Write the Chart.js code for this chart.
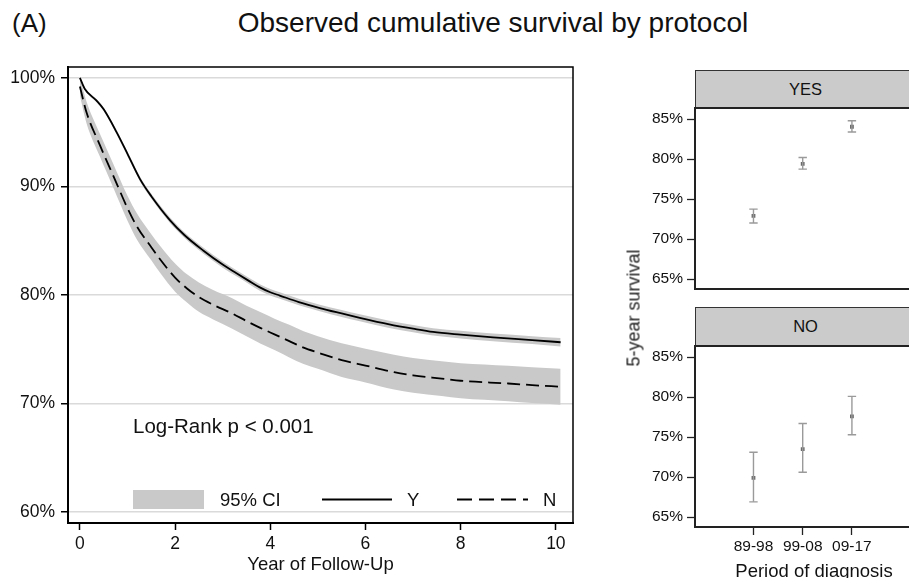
<!DOCTYPE html>
<html>
<head>
<meta charset="utf-8">
<script src="https://cdn.jsdelivr.net/npm/chart.js@4.4.0/dist/chart.umd.min.js"></script>
<style>
  html, body { margin: 0; padding: 0; background: #fff; overflow: hidden; }
  #wrap { position: relative; width: 909px; height: 578px; overflow: hidden;
          font-family: "Liberation Sans", Arial, Helvetica, sans-serif; color: #111; }
  .lbl { position: absolute; white-space: nowrap; }
  canvas { position: absolute; }
  .strip { position: absolute; box-sizing: border-box; background: #cbcbcb; border: 1px solid #333;
           border-bottom: 2px solid #222; text-align: center; font-size: 16.5px; color: #111; }
</style>
</head>
<body>
<div id="wrap">
  <div class="lbl" style="left:12px; top:8px; font-size:26px; line-height:30px;">(A)</div>
  <div class="lbl" style="left:193px; top:7px; width:600px; text-align:center; font-size:28px; line-height:32px;">Observed cumulative survival by protocol</div>

  <canvas id="kmChart" width="600" height="578" style="left:0; top:0;"></canvas>

  <div class="strip" style="left:695px; top:70px; width:221px; height:39px; line-height:36px;">YES</div>
  <canvas id="yesChart" width="316" height="195" style="left:600px; top:100px;"></canvas>

  <div class="strip" style="left:695px; top:307px; width:221px; height:40px; line-height:37px;">NO</div>
  <canvas id="noChart" width="316" height="240" style="left:600px; top:338px;"></canvas>

  <div class="lbl" style="left:634px; top:308px; font-size:18px; color:#222; transform: translate(-50%, -50%) rotate(-90deg);">5-year survival</div>
  <div class="lbl" style="left:714px; top:560px; width:200px; text-align:center; font-size:18.5px; line-height:22px;">Period of diagnosis</div>
</div>

<script>
// Kaplan-Meier curves (years, % surviving)
const yTime  = [0, 0.1, 0.35, 0.5, 0.77, 1.0, 1.26, 1.5, 1.89, 2.2, 2.59, 3.0, 3.29, 3.55, 3.78, 4.0, 4.2, 4.6, 5.04, 5.5, 5.88, 6.5, 7.0, 7.42, 8.0, 8.68, 9.5, 10.1];
const ySurv  = [100, 99.0, 97.9, 97.1, 95.0, 93.0, 90.7, 89.1, 86.9, 85.5, 84.1, 82.8, 82.0, 81.3, 80.7, 80.25, 79.95, 79.35, 78.8, 78.3, 77.9, 77.3, 76.9, 76.6, 76.35, 76.1, 75.85, 75.65];
const yUpper = [100, 99.1, 98.05, 97.25, 95.2, 93.2, 90.92, 89.32, 87.15, 85.75, 84.37, 83.08, 82.28, 81.59, 81.0, 80.55, 80.25, 79.65, 79.1, 78.62, 78.22, 77.63, 77.23, 76.94, 76.7, 76.45, 76.21, 76.05];
const yLower = [100, 98.9, 97.75, 96.95, 94.8, 92.8, 90.48, 88.88, 86.65, 85.25, 83.83, 82.52, 81.72, 81.01, 80.4, 79.95, 79.65, 79.05, 78.5, 77.98, 77.58, 76.97, 76.57, 76.26, 76.0, 75.75, 75.49, 75.25];

const nTime  = [0, 0.05, 0.14, 0.42, 0.7, 1.0, 1.2, 1.5, 1.7, 2.0, 2.25, 2.5, 2.8, 3.2, 3.5, 3.8, 4.1, 4.4, 4.7, 5.0, 5.5, 6.0, 6.6, 7.0, 7.6, 8.0, 9.0, 9.5, 10.1];
const nSurv  = [99.2, 98.3, 96.8, 93.8, 91.0, 88.0, 86.3, 84.4, 83.2, 81.6, 80.6, 79.8, 79.1, 78.3, 77.6, 76.95, 76.35, 75.75, 75.15, 74.7, 74.0, 73.5, 72.9, 72.6, 72.3, 72.1, 71.85, 71.7, 71.55];
const nUpper = [100, 99.2, 97.8, 94.85, 92.1, 89.15, 87.5, 85.6, 84.45, 82.9, 81.9, 81.15, 80.45, 79.7, 79.0, 78.4, 77.8, 77.25, 76.65, 76.2, 75.55, 75.05, 74.5, 74.2, 73.9, 73.72, 73.49, 73.35, 73.2];
const nLower = [98.4, 97.4, 95.8, 92.75, 89.9, 86.85, 85.1, 83.2, 81.95, 80.3, 79.3, 78.45, 77.75, 76.9, 76.2, 75.5, 74.9, 74.25, 73.65, 73.2, 72.45, 71.95, 71.3, 71.0, 70.7, 70.48, 70.21, 70.05, 69.9];

const xTickValues = [0, 2, 4, 6, 8, 10];
const yTickValues = [60, 70, 80, 90, 100];

// 5-year survival by period of diagnosis, with 95% CI
const periods  = ['89-98', '99-08', '09-17'];
const yesEst   = [72.9, 79.4, 84.05];
const yesLow   = [72.0, 78.75, 83.4];
const yesHigh  = [73.75, 80.2, 84.8];
const noEst    = [69.9, 73.5, 77.6];
const noLow    = [66.9, 70.6, 75.3];
const noHigh   = [73.1, 76.7, 80.1];
const panelTicks = [65, 70, 75, 80, 85];

const FONT = '"Liberation Sans", Arial, Helvetica, sans-serif';
const CI_GRAY = '#c8c9c8';

Chart.defaults.font.family = FONT;
Chart.defaults.color = '#111';

function toPoints(xs, ys) {
  return xs.map((x, i) => ({ x: x, y: ys[i] }));
}

// top/right frame lines, annotation and legend inside the plot
const kmExtras = {
  id: 'kmExtras',
  afterDraw(chart) {
    const ctx = chart.ctx;
    const a = chart.chartArea;
    ctx.save();
    ctx.strokeStyle = '#000';
    ctx.lineWidth = 1.5;
    ctx.beginPath();
    ctx.moveTo(a.left, a.top);
    ctx.lineTo(a.right, a.top);
    ctx.lineTo(a.right, a.bottom);
    ctx.stroke();

    ctx.fillStyle = '#111';
    ctx.textBaseline = 'middle';
    ctx.font = '20.5px ' + FONT;
    ctx.fillText('Log-Rank p < 0.001', a.left + 65, 427);

    // legend row
    const ly = 499.5;
    ctx.fillStyle = CI_GRAY;
    ctx.fillRect(a.left + 65, ly - 9.5, 71, 19);
    ctx.fillStyle = '#111';
    ctx.font = '18.5px ' + FONT;
    ctx.fillText('95% CI', a.left + 152, ly + 1);
    ctx.strokeStyle = '#000';
    ctx.lineWidth = 1.8;
    ctx.beginPath();
    ctx.moveTo(a.left + 254, ly);
    ctx.lineTo(a.left + 324, ly);
    ctx.stroke();
    ctx.fillText('Y', a.left + 339, ly + 1);
    ctx.setLineDash([15, 7]);
    ctx.beginPath();
    ctx.moveTo(a.left + 389, ly);
    ctx.lineTo(a.left + 460, ly);
    ctx.stroke();
    ctx.setLineDash([]);
    ctx.fillText('N', a.left + 475, ly + 1);
    ctx.restore();
  }
};

new Chart(document.getElementById('kmChart'), {
  type: 'line',
  data: {
    datasets: [
      { label: 'Y upper', data: toPoints(yTime, yUpper), borderWidth: 0, pointRadius: 0, fill: '+1', backgroundColor: CI_GRAY },
      { label: 'Y lower', data: toPoints(yTime, yLower), borderWidth: 0, pointRadius: 0, fill: false },
      { label: 'N upper', data: toPoints(nTime, nUpper), borderWidth: 0, pointRadius: 0, fill: '+1', backgroundColor: CI_GRAY },
      { label: 'N lower', data: toPoints(nTime, nLower), borderWidth: 0, pointRadius: 0, fill: false },
      { label: 'Y', data: toPoints(yTime, ySurv), borderColor: '#000', borderWidth: 1.8, pointRadius: 0, fill: false },
      { label: 'N', data: toPoints(nTime, nSurv), borderColor: '#000', borderWidth: 1.8, borderDash: [13, 6], pointRadius: 0, fill: false }
    ]
  },
  options: {
    responsive: false,
    animation: false,
    layout: { padding: { top: 67, right: 27, left: 0, bottom: 0 } },
    elements: { line: { cubicInterpolationMode: 'monotone' } },
    plugins: {
      legend: { display: false },
      tooltip: { enabled: false },
      filler: { drawTime: 'beforeDatasetsDraw' }
    },
    scales: {
      x: {
        type: 'linear', min: -0.25, max: 10.36,
        afterBuildTicks: s => { s.ticks = xTickValues.map(v => ({ value: v })); },
        afterFit: s => { s.height = 55; },
        grid: { drawOnChartArea: false, drawTicks: true, tickLength: 7, tickColor: '#000', tickWidth: 1.5 },
        border: { display: true, color: '#000', width: 2 },
        ticks: { font: { size: 17.5 }, padding: 4, maxRotation: 0, autoSkip: false },
        title: { display: true, text: 'Year of Follow-Up', font: { size: 18.5 }, padding: { top: 0, bottom: 2 } }
      },
      y: {
        type: 'linear', min: 59, max: 101,
        afterBuildTicks: s => { s.ticks = yTickValues.map(v => ({ value: v })); },
        afterFit: s => { s.width = 68; s.paddingTop = 0; s.paddingBottom = 0; },
        grid: { color: '#dadada', lineWidth: 1.5, drawTicks: true, tickLength: 7, tickColor: '#000', tickWidth: 1.5 },
        border: { display: true, color: '#000', width: 2 },
        ticks: { callback: v => v + '%', font: { size: 17.5 }, padding: 6 }
      }
    }
  },
  plugins: [kmExtras]
});

// frame for the small panels
const panelFrame = {
  id: 'panelFrame',
  afterDraw(chart) {
    const ctx = chart.ctx;
    const a = chart.chartArea;
    ctx.save();
    ctx.strokeStyle = '#222';
    ctx.lineWidth = 2;
    ctx.strokeRect(a.left, a.top, a.right - a.left + 5, a.bottom - a.top);
    ctx.restore();
  }
};

function makePanel(id, est, low, high, showX, bottomSpace) {
  const datasets = periods.map((p, i) => ({
    label: p + ' CI',
    data: [{ x: i, y: low[i] }, { x: i, y: high[i] }],
    showLine: true,
    borderColor: '#9a9a9a',
    borderWidth: 1.4,
    pointStyle: 'line',
    pointRadius: 4.2,
    pointBorderColor: '#9a9a9a',
    pointBorderWidth: 1.4
  }));
  datasets.push({
    label: 'estimate',
    data: est.map((v, i) => ({ x: i, y: v })),
    showLine: false,
    pointStyle: 'rect',
    pointRadius: 2.7,
    pointBackgroundColor: '#6a6a6a',
    pointBorderWidth: 0
  });

  return new Chart(document.getElementById(id), {
    type: 'scatter',
    data: { datasets: datasets },
    options: {
      responsive: false,
      animation: false,
      layout: { padding: { top: 8, right: 0, left: 0, bottom: bottomSpace } },
      plugins: { legend: { display: false }, tooltip: { enabled: false } },
      scales: {
        x: {
          type: 'linear', min: -1.188, max: 3.188, display: showX,
          afterBuildTicks: s => { s.ticks = periods.map((p, i) => ({ value: i })); },
          afterFit: s => { if (showX) { s.height = 51; } s.paddingLeft = 0; s.paddingRight = 0; },
          grid: { drawOnChartArea: false, drawTicks: true, tickLength: 8, tickColor: '#222', tickWidth: 1.3 },
          border: { display: true, color: '#222', width: 2 },
          ticks: { callback: v => periods[v], font: { size: 15.5 }, padding: 2, maxRotation: 0, autoSkip: false }
        },
        y: {
          type: 'linear', min: 63.75, max: 86.4,
          afterBuildTicks: s => { s.ticks = panelTicks.map(v => ({ value: v })); },
          afterFit: s => { s.width = 95; s.paddingTop = 0; s.paddingBottom = 0; },
          grid: { drawOnChartArea: false, drawTicks: true, tickLength: 8, tickColor: '#222', tickWidth: 1.3 },
          border: { display: true, color: '#222', width: 2 },
          ticks: { callback: v => v + '%', font: { size: 15.5 }, padding: 4 }
        }
      }
    },
    plugins: [panelFrame]
  });
}

makePanel('yesChart', yesEst, yesLow, yesHigh, false, 6);
makePanel('noChart', noEst, noLow, noHigh, true, 0);
</script>
</body>
</html>
